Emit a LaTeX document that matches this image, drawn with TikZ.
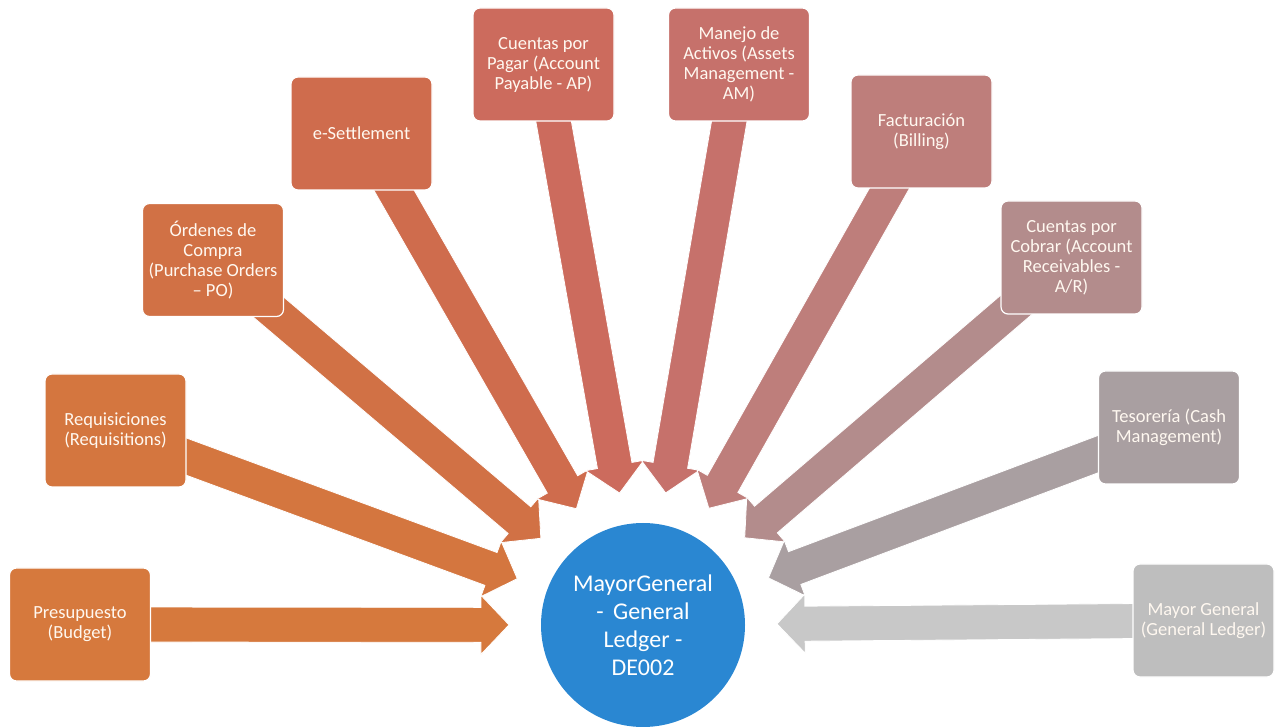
\documentclass[tikz,border=0pt]{standalone}
\usepackage{fontspec}
\setmainfont{Carlito}
\usetikzlibrary{calc,backgrounds}

% module colours, running from orange through rose to grey
\definecolor{m1}{HTML}{D6793D}
\definecolor{m2}{HTML}{D4763F}
\definecolor{m3}{HTML}{D17145}
\definecolor{m4}{HTML}{CF6C4D}
\definecolor{m5}{HTML}{CC6B5D}
\definecolor{m6}{HTML}{C6716B}
\definecolor{m7}{HTML}{BE7E7B}
\definecolor{m8}{HTML}{B38C8C}
\definecolor{m9}{HTML}{A99FA1}
\definecolor{m10}{HTML}{BEBEBE}
\definecolor{hubblue}{HTML}{2A87D2}
\definecolor{labeltext}{HTML}{FFF8F0}

\tikzset{
  module/.style={draw=white, line width=1.2pt, rounded corners=7pt,
    minimum width=141pt, minimum height=113pt, inner sep=1pt,
    align=center, text=labeltext, font=\fontsize{18.5}{20}\selectfont},
  hub/.style={circle, fill=hubblue, minimum size=204pt, inner sep=0pt,
    align=center, text=white, font=\fontsize{24}{28}\selectfont},
  fatfill/.style={draw=white, line width=0.8pt, line join=miter},
}

% broad block arrow from the centre of a module box to a tip coordinate
\newcommand\fatarrow[3]{%
  \coordinate (hd) at ($(#2)!28pt!(#1)$);
  \fill[fatfill, fill=#3]
    (#2) -- ($(hd)!29.5pt!90:(#2)$) -- ($(hd)!17.5pt!90:(#2)$)
    -- ($(#1)!17.5pt!90:(#2)$) -- ($(#1)!17.5pt!-90:(#2)$)
    -- ($(hd)!17.5pt!-90:(#2)$) -- ($(hd)!29.5pt!-90:(#2)$) -- cycle;
}

\begin{document}
\begin{tikzpicture}[x=1pt,y=1pt]
\useasboundingbox (0,0) rectangle (1280,726);

% central ledger
\node[hub] (C) at (643,101) {MayorGeneral\\- \,General\\Ledger -\\DE002};

% surrounding modules
\node[module, fill=m1]  (b1)  at (80,101.5)    {Presupuesto\\(Budget)};
\node[module, fill=m2]  (b2)  at (115.5,295.5) {Requisiciones\\(Requisitions)};
\node[module, fill=m3]  (b3)  at (213,466)     {Órdenes de\\Compra\\(Purchase Orders\\– PO)};
\node[module, fill=m4]  (b4)  at (361.5,592.5) {e-Settlement};
\node[module, fill=m5]  (b5)  at (543.5,661.5) {Cuentas por\\Pagar (Account\\Payable - AP)};
\node[module, fill=m6]  (b6)  at (739,661.5)   {Manejo de\\Activos (Assets\\Management -\\AM)};
\node[module, fill=m7]  (b7)  at (921.5,594.5) {Facturación\\(Billing)};
\node[module, fill=m8]  (b8)  at (1071.5,468.5){Cuentas por\\Cobrar (Account\\Receivables -\\A/R)};
\node[module, fill=m9]  (b9)  at (1169,298.5)  {Tesorería (Cash\\Management)};
\node[module, fill=m10] (b10) at (1203.5,105.5){Mayor General\\(General Ledger)};

% arrow tips, on a ring around the ledger
\foreach \i in {1,...,10}{
  \coordinate (t\i) at ($(C)!134pt!(b\i)$);
}

% block arrows behind the boxes
\begin{scope}[on background layer]
  \fatarrow{b1}{t1}{m1}
  \fatarrow{b2}{t2}{m2}
  \fatarrow{b3}{t3}{m3}
  \fatarrow{b4}{t4}{m4}
  \fatarrow{b5}{t5}{m5}
  \fatarrow{b6}{t6}{m6}
  \fatarrow{b7}{t7}{m7}
  \fatarrow{b8}{t8}{m8}
  \fatarrow{b9}{t9}{m9}
  \fatarrow{b10}{t10}{m10!85!white}
\end{scope}
\end{tikzpicture}
\end{document}
